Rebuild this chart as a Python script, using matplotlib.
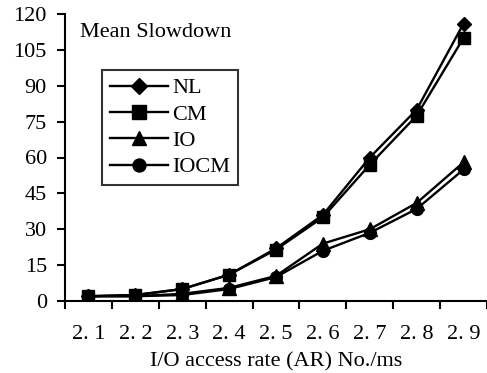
import matplotlib
matplotlib.use("Agg")
import matplotlib.pyplot as plt

categories = ["2. 1", "2. 2", "2. 3", "2. 4", "2. 5", "2. 6", "2. 7", "2. 8", "2. 9"]
nl = [2, 2.5, 5, 11, 22, 36, 60, 80, 116]
cm = [2, 2.5, 5, 11, 21.5, 35, 57, 77.5, 110]
io = [2, 2, 3, 5.5, 10.5, 24, 30, 41, 58]
iocm = [2, 2, 2.5, 5, 10, 21, 28.5, 38.5, 55]
yticks = [0, 15, 30, 45, 60, 75, 90, 105, 120]

plt.rcParams['font.family'] = ['Liberation Serif', 'DejaVu Serif']

fig = plt.figure(figsize=(4.87, 3.73), dpi=100)
ax = fig.add_axes([65/487, (373-301)/373, (487-65)/487, (301-14)/373])

x = list(range(len(categories)))
kw = dict(color='black', lw=1.7)
ax.plot(x, nl, marker='D', ms=7.5, label='NL', **kw)
ax.plot(x, cm, marker='s', ms=9, label='CM', **kw)
ax.plot(x, io, marker='^', ms=9.5, label='IO', **kw)
ax.plot(x, iocm, marker='o', ms=8.5, label='IOCM', **kw)

ax.set_xlim(-0.5, len(categories) - 0.5)
ax.set_ylim(0, 120)
ax.set_yticks(yticks)
ax.set_yticklabels([str(v) for v in yticks], fontsize=16)
ax.set_xticks([i - 0.5 for i in range(len(categories) + 1)])
ax.set_xticklabels([''] * (len(categories) + 1))
ax.set_xticks(x, minor=True)
ax.set_xticklabels(categories, minor=True, fontsize=16)
ax.tick_params(axis='x', which='minor', length=0, pad=17)
ax.tick_params(axis='both', which='major', direction='out', length=6, width=1.5, color='black')
ax.tick_params(axis='y', pad=7)

for s in ['top', 'right']:
    ax.spines[s].set_visible(False)
for s in ['left', 'bottom']:
    ax.spines[s].set_linewidth(1.5)
    ax.spines[s].set_color('black')

ax.set_xlabel('I/O access rate (AR) No./ms', fontsize=16, labelpad=6)
ax.text(0.035, 0.97, 'Mean Slowdown', transform=ax.transAxes, fontsize=16, va='top', ha='left')

leg = ax.legend(loc='upper left', bbox_to_anchor=(0.088, 0.805), fontsize=16,
                frameon=True, fancybox=False, handlelength=2.6, handletextpad=0.2,
                labelspacing=0.26, borderpad=0.35, borderaxespad=0, markerscale=1.1)
leg.get_frame().set_edgecolor('black')
leg.get_frame().set_linewidth(1.5)

fig.savefig('out.png', dpi=100)
